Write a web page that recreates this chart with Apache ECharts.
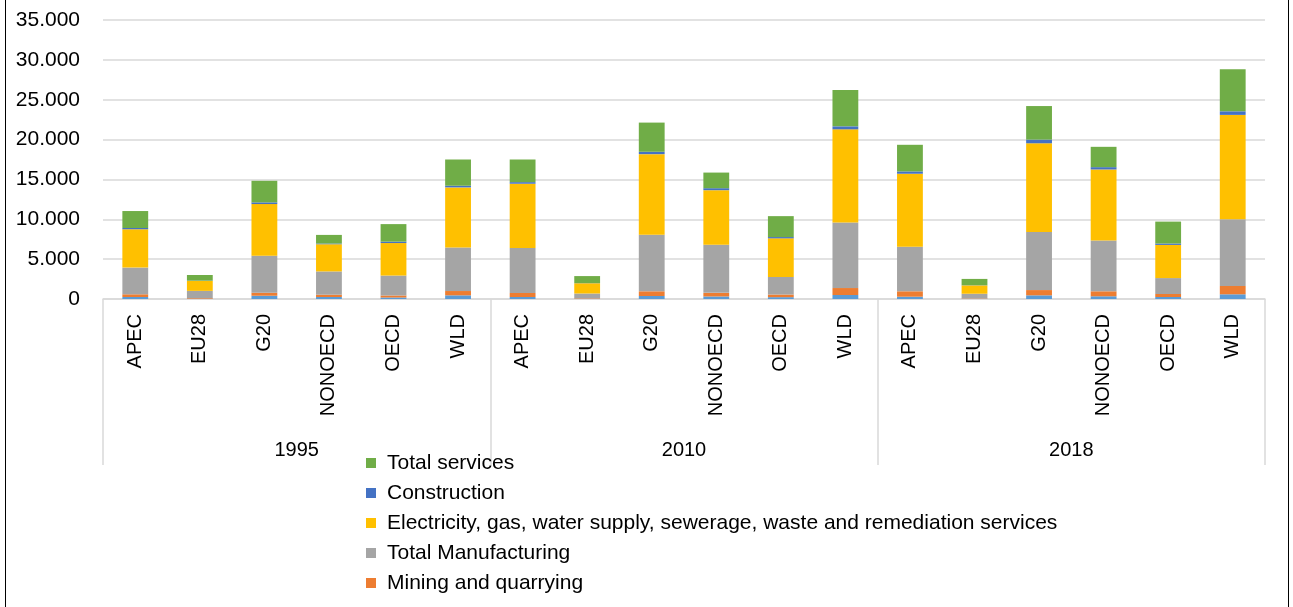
<!DOCTYPE html>
<html>
<head>
<meta charset="utf-8">
<script src="https://cdn.jsdelivr.net/npm/echarts@6/dist/echarts.min.js"></script>
<style>
  html, body { margin: 0; padding: 0; background: #fff; }
  #wrap { position: relative; width: 1293px; height: 607px; overflow: hidden; }
  #frame { position: absolute; left: 5px; top: -2px; width: 1284px; height: 612px; border: 1.5px solid #000; box-sizing: border-box; pointer-events: none; }
  #chart { position: absolute; left: 0; top: 0; width: 1293px; height: 607px; }
</style>
</head>
<body>
<div id="wrap">
  <div id="chart"></div>
  <div id="frame"></div>
</div>
<script>
const years = ['1995', '2010', '2018'];
const regions = ['APEC', 'EU28', 'G20', 'NONOECD', 'OECD', 'WLD'];
const categories = [].concat(regions, regions, regions);
const yTicks = [0, 5000, 10000, 15000, 20000, 25000, 30000, 35000];

const agriculture   = [250, 40, 410, 250, 190, 460,   250, 40, 375, 320, 230, 500,   290, 30, 460, 340, 250, 590];
const mining        = [340, 80, 375, 290, 250, 540,   500, 60, 590, 450, 330, 875,   675, 50, 660, 625, 375, 1040];
const manufacturing = [3350, 900, 4625, 2920, 2500, 5460,   5660, 590, 7080, 6040, 2210, 8210,   5575, 580, 7290, 6375, 2000, 8375];
const electricity   = [4810, 1250, 6500, 3410, 4080, 7540,   8050, 1290, 10125, 6840, 4840, 11700,   9175, 1050, 11125, 8910, 4160, 13090];
const construction  = [160, 30, 210, 90, 175, 210,   200, 20, 300, 250, 160, 375,   290, 20, 460, 290, 175, 450];
const services      = [2125, 710, 2710, 1080, 2200, 3290,   2840, 875, 3660, 1960, 2625, 4550,   3340, 790, 4210, 2550, 2750, 5290];

const names = {
  agri: 'Agriculture, forestry and fishing',
  mining: 'Mining and quarrying',
  manuf: 'Total Manufacturing',
  elec: 'Electricity, gas, water supply, sewerage, waste and remediation services',
  cons: 'Construction',
  serv: 'Total services'
};

const FONT = 'Liberation Sans, Arial, sans-serif';
const chart = echarts.init(document.getElementById('chart'), null, { renderer: 'canvas' });

function bar(name, data, color) {
  return {
    name: name, type: 'bar', stack: 'total', data: data,
    barWidth: '40%', xAxisIndex: 0,
    itemStyle: { color: color },
    emphasis: { disabled: true }
  };
}

chart.setOption({
  animation: false,
  grid: { left: 103, right: 28, top: 20, bottom: 308, containLabel: false },
  legend: {
    orient: 'vertical', left: 361, top: 447,
    itemWidth: 10, itemHeight: 10, itemGap: 8,
    icon: 'rect',
    textStyle: { fontFamily: FONT, fontSize: 21, color: '#000', lineHeight: 22, padding: [0, 0, 0, 6] },
    data: [names.serv, names.cons, names.elec, names.manuf, names.mining]
  },
  xAxis: [
    {
      type: 'category', data: categories, position: 'bottom',
      axisLine: { show: true, lineStyle: { color: '#d9d9d9', width: 1.5 } },
      axisTick: { show: false },
      axisLabel: { rotate: 90, margin: 15, interval: 0, fontFamily: FONT, fontSize: 20, color: '#000' }
    },
    {
      type: 'category', data: years, position: 'bottom',
      axisLine: { show: false },
      axisTick: { show: true, length: 166, lineStyle: { color: '#d9d9d9', width: 1.5 } },
      axisLabel: { margin: 141, interval: 0, fontFamily: FONT, fontSize: 20, color: '#000' }
    }
  ],
  yAxis: {
    type: 'value', min: 0, max: 35000, interval: 5000,
    axisLine: { show: false }, axisTick: { show: false },
    splitLine: { lineStyle: { color: '#d9d9d9', width: 1.5 } },
    axisLabel: {
      margin: 23, fontFamily: FONT, fontSize: 21, color: '#000',
      formatter: function (v) { return yTicks.indexOf(v) >= 0 ? String(v).replace(/\B(?=(\d{3})+(?!\d))/g, '.') : ''; }
    }
  },
  series: [
    bar(names.agri, agriculture, '#5B9BD5'),
    bar(names.mining, mining, '#ED7D31'),
    bar(names.manuf, manufacturing, '#A5A5A5'),
    bar(names.elec, electricity, '#FFC000'),
    bar(names.cons, construction, '#4472C4'),
    bar(names.serv, services, '#70AD47'),
    { type: 'bar', xAxisIndex: 1, data: [], silent: true }
  ]
});
</script>
</body>
</html>
